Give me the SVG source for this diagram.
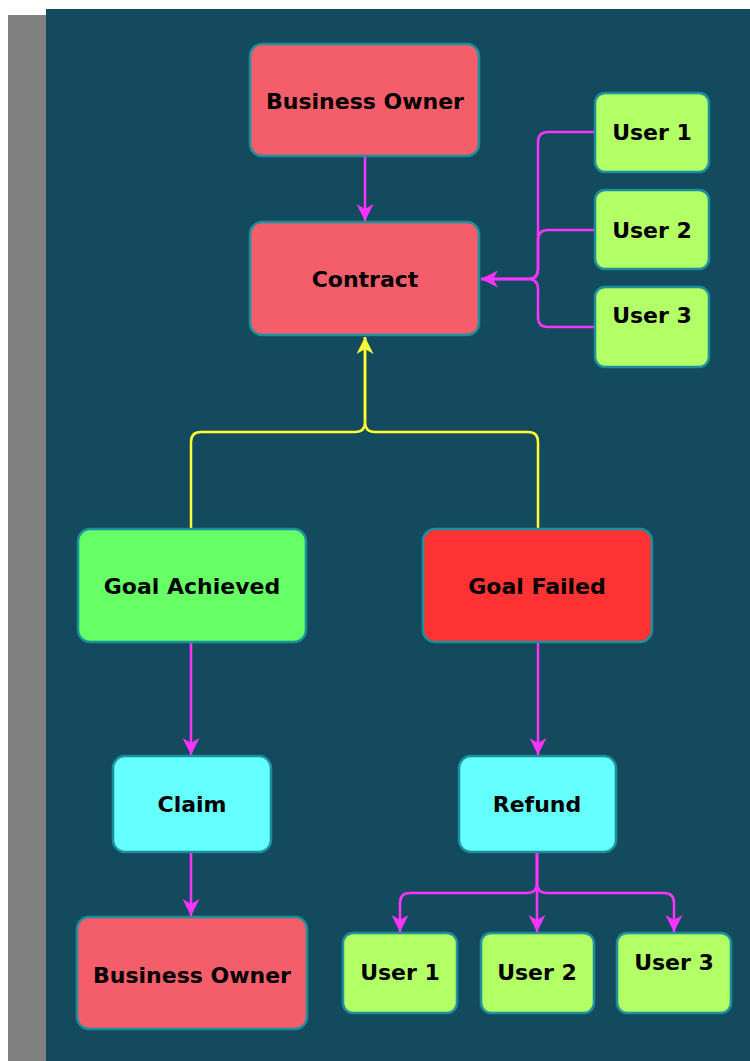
<svg xmlns="http://www.w3.org/2000/svg" width="750" height="1061" viewBox="0 0 750 1061">
<style>
.n rect{stroke:#1b8f9c;stroke-width:2.5}
.n text{font-family:"DejaVu Sans",sans-serif;font-weight:bold;font-size:22px;fill:#000;text-anchor:middle}
.m{fill:none;stroke:#ff33ff;stroke-width:2.5}
.y{fill:none;stroke:#ffff33;stroke-width:2.5}
.red{fill:#f45e6a}.lime{fill:#b3ff66}.green{fill:#66ff66}.fail{fill:#ff3333}.cyan{fill:#66ffff}
</style>
<defs>
<marker id="am" markerUnits="userSpaceOnUse" markerWidth="20" markerHeight="18" refX="17" refY="8.5" orient="auto" viewBox="0 0 20 18">
<path d="M0,0 L17,8.5 L0,17 L5,8.5 z" fill="#ff33ff"/>
</marker>
<marker id="ay" markerUnits="userSpaceOnUse" markerWidth="20" markerHeight="18" refX="17" refY="8.5" orient="auto" viewBox="0 0 20 18">
<path d="M0,0 L17,8.5 L0,17 L5,8.5 z" fill="#ffff33"/>
</marker>
</defs>
<rect x="8" y="15" width="40" height="1046" fill="#808080"/>
<rect x="46" y="9" width="704" height="1052" fill="#134a5e"/>
<g id="connectors">
<path class="m" d="M365,157 V221" marker-end="url(#am)"/>
<path class="m" d="M595,132 H548 Q538,132 538,142 V269 Q538,279 528,279 H481" marker-end="url(#am)"/>
<path class="m" d="M595,230 H548 Q538,230 538,240 V269 Q538,279 528,279 H481"/>
<path class="m" d="M595,327 H548 Q538,327 538,317 V289 Q538,279 528,279 H481"/>
<path class="y" d="M191,528 V442 Q191,432 201,432 H355 Q365,432 365,422 V337" marker-end="url(#ay)"/>
<path class="y" d="M538,528 V442 Q538,432 528,432 H375 Q365,432 365,422 V337"/>
<path class="m" d="M191,643 V755" marker-end="url(#am)"/>
<path class="m" d="M538,643 V755" marker-end="url(#am)"/>
<path class="m" d="M191,853 V916" marker-end="url(#am)"/>
<path class="m" d="M537,853 V932" marker-end="url(#am)"/>
<path class="m" d="M537,853 V883 Q537,893 527,893 H410 Q400,893 400,903 V932" marker-end="url(#am)"/>
<path class="m" d="M537,853 V883 Q537,893 547,893 H664 Q674,893 674,903 V932" marker-end="url(#am)"/>
</g>
<g id="bo-top" class="n"><rect class="red" x="250" y="44" width="229" height="112" rx="12"/><text x="365" y="109">Business Owner</text></g>
<g id="contract" class="n"><rect class="red" x="250" y="222" width="229" height="113" rx="12"/><text x="365" y="287">Contract</text></g>
<g id="user1-top" class="n"><rect class="lime" x="595" y="93" width="114" height="79" rx="10"/><text x="652" y="140">User 1</text></g>
<g id="user2-top" class="n"><rect class="lime" x="595" y="190" width="114" height="79" rx="10"/><text x="652" y="238">User 2</text></g>
<g id="user3-top" class="n"><rect class="lime" x="595" y="287" width="114" height="80" rx="10"/><text x="652" y="323">User 3</text></g>
<g id="goal-achieved" class="n"><rect class="green" x="78" y="529" width="228" height="113" rx="12"/><text x="192" y="594">Goal Achieved</text></g>
<g id="goal-failed" class="n"><rect class="fail" x="423" y="529" width="229" height="113" rx="12"/><text x="537" y="594">Goal Failed</text></g>
<g id="claim" class="n"><rect class="cyan" x="113" y="756" width="158" height="96" rx="12"/><text x="192" y="812">Claim</text></g>
<g id="refund" class="n"><rect class="cyan" x="459" y="756" width="157" height="96" rx="12"/><text x="537" y="812">Refund</text></g>
<g id="bo-bottom" class="n"><rect class="red" x="77" y="917" width="230" height="112" rx="12"/><text x="192" y="983">Business Owner</text></g>
<g id="user1-bottom" class="n"><rect class="lime" x="343" y="933" width="114" height="80" rx="10"/><text x="400" y="980">User 1</text></g>
<g id="user2-bottom" class="n"><rect class="lime" x="481" y="933" width="113" height="80" rx="10"/><text x="537" y="980">User 2</text></g>
<g id="user3-bottom" class="n"><rect class="lime" x="617" y="933" width="114" height="80" rx="10"/><text x="674" y="970">User 3</text></g>
</svg>
